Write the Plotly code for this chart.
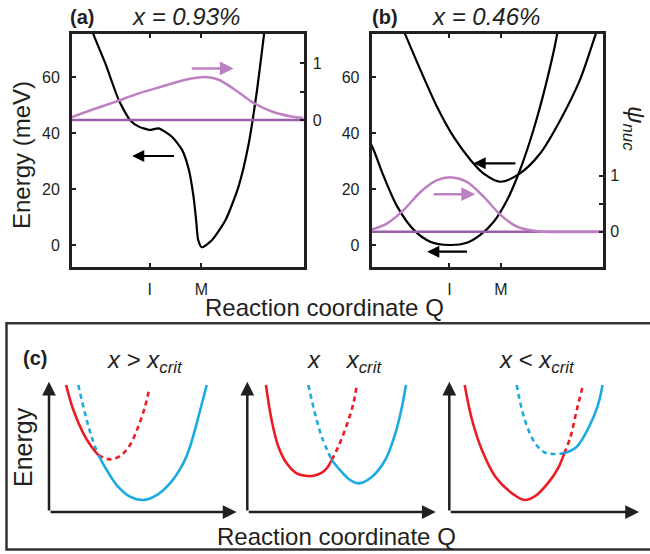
import plotly.graph_objects as go

W, H = 650, 554
FONT = "Liberation Sans, Arial, Helvetica, sans-serif"
INK = "#231f20"
PSI_COL = "#bd80c2"
BASE_COL = "#9a5ea9"
RED = "#ec1c24"
BLUE = "#1caae2"

# ---------------- data ----------------
q_tick_vals = [1, 2]
q_tick_text = ["I", "M"]
energy_ticks = [0, 20, 40, 60]
psi_tick_vals = [0, 0.5, 1]
psi_tick_text = ["0", "", "1"]

# panel (a): x = 0.93 %
a_pes_q = [-0.16, -0.085, 0.14, 0.40, 0.62, 0.79, 1.01, 1.17, 1.43, 1.63, 1.76, 1.85,
           1.90, 1.94, 2.01, 2.21, 2.47, 2.72, 2.92, 3.08, 3.21, 3.25]
a_pes_e = [79, 75, 64.9, 51.8, 44.6, 42.3, 41.1, 41.7, 38.7, 33.9, 26.8, 17.2,
           8.9, 1.8, -0.8, 1.8, 8.9, 20.8, 36.3, 55.3, 74.4, 80]
a_psi_q = [-0.506, -0.118, 0.333, 0.787, 1.238, 1.69, 2.078, 2.337, 2.659, 2.98, 3.368, 3.694, 3.985]
a_psi = [0.05, 0.18, 0.32, 0.47, 0.59, 0.71, 0.76, 0.71, 0.53, 0.32, 0.15, 0.07, 0.03]
a_base_q = [-0.506, 3.985]
a_base_psi = [0, 0]
a_black_arrow = dict(tail=(1.50, 31.8), head=(0.66, 31.8))
a_psi_arrow = dict(tail=(1.787, 0.91), head=(2.627, 0.91))

# panel (b): x = 0.46 %
b_low_q = [-0.7, -0.495, -0.27, -0.01, 0.31, 0.63, 1.0, 1.34, 1.60, 1.86, 2.12, 2.37, 2.63, 2.86, 3.08, 3.12]
b_low_e = [42, 35.1, 24.4, 13.7, 5.4, 1.2, 0, 0.8, 3.6, 8.3, 16.1, 26.8, 41.1, 56.5, 74.4, 80]
b_up_q = [0.08, 0.15, 0.44, 0.76, 1.08, 1.41, 1.66, 1.99, 2.37, 2.76, 3.15, 3.53, 3.82, 3.9]
b_up_e = [78, 75, 62.5, 49.4, 38.7, 30.4, 25.6, 22.6, 25.6, 32.7, 44.6, 58.9, 74.4, 79]
b_psi_q = [-0.53, -0.205, 0.116, 0.44, 0.76, 1.05, 1.34, 1.66, 1.99, 2.31, 2.70, 3.985]
b_psi = [0.03, 0.15, 0.39, 0.71, 0.92, 0.97, 0.89, 0.63, 0.30, 0.09, 0.01, 0.0]
b_base_q = [-0.53, 3.985]
b_base_psi = [0, 0]
b_black_arrows = [dict(tail=(2.31, 29.2), head=(1.47, 29.2)),
                  dict(tail=(1.37, -2.4), head=(0.57, -2.4))]
b_psi_arrow = dict(tail=(0.665, 0.67), head=(1.50, 0.67))

# panel (c): schematic parabolas (local units 0..10)
c1_red_solid_u = [0.91, 1.30, 1.83, 2.27, 2.63]
c1_red_solid_v = [9.75, 7.83, 6.04, 5.01, 4.37]
c1_red_dash_u = [2.63, 3.25, 3.79, 4.32, 4.76, 5.12, 5.35]
c1_red_dash_v = [4.37, 4.04, 4.30, 5.14, 6.55, 8.08, 9.49]
c1_blue_dash_u = [1.56, 1.92, 2.27, 2.63]
c1_blue_dash_v = [9.75, 7.57, 5.78, 4.37]
c1_blue_solid_u = [2.63, 3.08, 3.61, 4.32, 5.03, 5.74, 6.45, 7.16, 7.52, 8.05, 8.41]
c1_blue_solid_v = [4.37, 3.22, 2.07, 1.18, 0.92, 1.30, 2.20, 3.74, 5.01, 7.75, 9.75]

c2_red_solid_u = [0.99, 1.29, 1.65, 2.09, 2.62, 3.02, 3.42, 3.75, 4.03, 4.27, 4.48]
c2_red_solid_v = [9.75, 7.06, 5.01, 3.74, 2.97, 2.80, 2.76, 2.88, 3.09, 3.45, 3.99]
c2_red_dash_u = [4.48, 4.83, 5.28, 5.63, 5.81]
c2_red_dash_v = [3.99, 5.01, 6.68, 8.34, 9.75]
c2_blue_dash_u = [3.24, 3.59, 3.95, 4.48]
c2_blue_dash_v = [9.75, 7.57, 5.78, 3.99]
c2_blue_solid_u = [4.48, 4.92, 5.45, 5.91, 6.62, 7.32, 7.86, 8.21, 8.42]
c2_blue_solid_v = [3.99, 3.22, 2.46, 2.20, 2.71, 3.99, 6.04, 8.08, 9.75]

c3_red_solid_u = [0.81, 1.20, 1.72, 2.43, 3.31, 3.98, 4.55, 5.19, 5.73, 6.06]
c3_red_solid_v = [9.75, 7.06, 4.76, 2.71, 1.43, 0.92, 1.25, 2.20, 3.35, 4.50]
c3_red_dash_u = [6.06, 6.39, 6.72, 7.05]
c3_red_dash_v = [4.50, 5.78, 7.83, 9.75]
c3_blue_dash_u = [3.55, 3.98, 4.53, 5.05, 5.55, 6.06]
c3_blue_dash_v = [9.75, 7.06, 5.27, 4.55, 4.45, 4.50]
c3_blue_solid_u = [6.06, 6.72, 7.37, 7.81, 8.08]
c3_blue_solid_v = [4.50, 5.01, 6.55, 8.08, 9.75]

c_titles = ["<i>x</i> > <i>x<sub>crit</sub></i>",
            "<i>x</i>\u00a0\u00a0\u00a0\u00a0<i>x<sub>crit</sub></i>",
            "<i>x</i> < <i>x<sub>crit</sub></i>"]

# ---------------- figure ----------------
def px(x):
    return x / W


def py(y):
    return 1 - y / H


fig = go.Figure()

def line(x, y, xa, ya, color, width, dash="solid", shape="spline", smoothing=0.8):
    fig.add_trace(go.Scatter(x=x, y=y, xaxis=xa, yaxis=ya, mode="lines",
                             line=dict(color=color, width=width, dash=dash, shape=shape,
                                       smoothing=smoothing),
                             showlegend=False, hoverinfo="skip", cliponaxis=True))

# (a)
line(a_base_q, a_base_psi, "x", "y2", BASE_COL, 2.5, shape="linear")
line(a_psi_q, a_psi, "x", "y2", PSI_COL, 2.5)
line(a_pes_q, a_pes_e, "x", "y", "#000", 2.2, smoothing=0.6)
# (b)
line(b_base_q, b_base_psi, "x2", "y4", BASE_COL, 2.5, shape="linear")
line(b_psi_q, b_psi, "x2", "y4", PSI_COL, 2.5)
line(b_low_q, b_low_e, "x2", "y3", "#000", 2.2)
line(b_up_q, b_up_e, "x2", "y3", "#000", 2.2)

# (c)
DASH = "5px,4px"
c_sets = [
    ("x3", "y5", c1_red_solid_u, c1_red_solid_v, c1_red_dash_u, c1_red_dash_v,
     c1_blue_dash_u, c1_blue_dash_v, c1_blue_solid_u, c1_blue_solid_v),
    ("x4", "y6", c2_red_solid_u, c2_red_solid_v, c2_red_dash_u, c2_red_dash_v,
     c2_blue_dash_u, c2_blue_dash_v, c2_blue_solid_u, c2_blue_solid_v),
    ("x5", "y7", c3_red_solid_u, c3_red_solid_v, c3_red_dash_u, c3_red_dash_v,
     c3_blue_dash_u, c3_blue_dash_v, c3_blue_solid_u, c3_blue_solid_v),
]
for xa, ya, rsu, rsv, rdu, rdv, bdu, bdv, bsu, bsv in c_sets:
    line(rdu, rdv, xa, ya, RED, 2.6, dash=DASH, smoothing=1.0)
    line(bdu, bdv, xa, ya, BLUE, 2.6, dash=DASH, smoothing=1.0)
    line(rsu, rsv, xa, ya, RED, 2.6, smoothing=1.0)
    line(bsu, bsv, xa, ya, BLUE, 2.6, smoothing=1.0)

tickfont = dict(family=FONT, size=16, color=INK)
frame = dict(showline=True, linewidth=3, linecolor=INK, showgrid=False, zeroline=False,
             ticks="inside", ticklen=4, tickwidth=1.5, tickcolor=INK, tickfont=tickfont)

ab_y = [py(267), py(34)]
e_range = [-7.86, 75.4]
q_range = [-0.506, 3.985]

layout = dict(
    width=W, height=H, margin=dict(l=0, r=0, t=0, b=0),
    paper_bgcolor="white", plot_bgcolor="rgba(0,0,0,0)",
    showlegend=False,
    xaxis=dict(frame, domain=[px(72), px(303.7)], anchor="y", range=q_range,
               tickmode="array", tickvals=q_tick_vals, ticktext=q_tick_text,
               mirror="ticks", ticklabelstandoff=6),
    yaxis=dict(frame, domain=ab_y, anchor="x", range=e_range, tickmode="array",
               tickvals=energy_ticks, mirror=True, ticklabelstandoff=6),
    yaxis2=dict(overlaying="y", side="right", anchor="x", range=[-2.593, 1.517],
                showgrid=False, zeroline=False, showline=False, ticks="inside", ticklen=4,
                tickwidth=1.5, tickcolor=INK, tickfont=tickfont, tickmode="array",
                tickvals=psi_tick_vals, ticktext=psi_tick_text, ticklabelstandoff=8),
    xaxis2=dict(frame, domain=[px(371.7), px(603.3)], anchor="y3", range=q_range,
                tickmode="array", tickvals=q_tick_vals, ticktext=q_tick_text,
                mirror="ticks", ticklabelstandoff=6),
    yaxis3=dict(frame, domain=ab_y, anchor="x2", range=e_range, tickmode="array",
                tickvals=energy_ticks, mirror=True, ticklabelstandoff=6),
    yaxis4=dict(overlaying="y3", side="right", anchor="x2", range=[-0.63, 3.53],
                showgrid=False, zeroline=False, showline=False, ticks="inside", ticklen=4,
                tickwidth=1.5, tickcolor=INK, tickfont=tickfont, tickmode="array",
                tickvals=psi_tick_vals, ticktext=psi_tick_text, ticklabelstandoff=6),
)

c_y = [py(512), py(381.7)]
c_x = [[px(49), px(236.5)], [px(247.3), px(435.7)], [px(449.3), px(639)]]
for i, (xa, ya) in enumerate([("x3", "y5"), ("x4", "y6"), ("x5", "y7")]):
    layout["xaxis" + xa[1:]] = dict(domain=c_x[i], anchor=ya, range=[0, 10], visible=False)
    layout["yaxis" + ya[1:]] = dict(domain=c_y, anchor=xa, range=[0, 10], visible=False)

fig.update_layout(**layout)

ann = []

def text(x, y, t, size, xanchor="center", yanchor="middle", angle=0, bold=False):
    if bold:
        t = "<b>" + t + "</b>"
    ann.append(dict(x=px(x), y=py(y), xref="paper", yref="paper", text=t, showarrow=False,
                    xanchor=xanchor, yanchor=yanchor, textangle=angle,
                    font=dict(family=FONT, size=size, color=INK)))

def arrow(xa, ya, tail, head, color, width=2.2):
    ann.append(dict(x=head[0], y=head[1], ax=tail[0], ay=tail[1], xref=xa, yref=ya,
                    axref=xa, ayref=ya, showarrow=True, arrowhead=2, arrowsize=1.1,
                    arrowwidth=width, arrowcolor=color, text=""))

text(82, 17, "(a)", 20, bold=True)
text(130, 17, "<i>x = 0.93%</i>", 24, xanchor="left")
text(385, 17, "(b)", 20, bold=True)
text(430, 17, "<i>x = 0.46%</i>", 24, xanchor="left")
text(21, 155, "Energy (meV)", 24, angle=-90)
text(324, 307, "Reaction coordinate Q", 24)
text(634, 128, "<i>ψ<sub>nuc</sub></i>", 24, angle=90)

arrow("x", "y", a_black_arrow["tail"], a_black_arrow["head"], "#000")
arrow("x", "y2", a_psi_arrow["tail"], a_psi_arrow["head"], PSI_COL, 2.5)
for ar in b_black_arrows:
    arrow("x2", "y3", ar["tail"], ar["head"], "#000")
arrow("x2", "y4", b_psi_arrow["tail"], b_psi_arrow["head"], PSI_COL, 2.5)

# panel (c) decorations
text(35, 358, "(c)", 20, bold=True)
text(105, 361, c_titles[0], 24, xanchor="left")
text(305, 361, c_titles[1], 24, xanchor="left")
text(497, 361, c_titles[2], 24, xanchor="left")
text(23, 447, "Energy", 25, angle=-90)
text(336, 536, "Reaction coordinate Q", 24)

for xa, ya in [("x3", "y5"), ("x4", "y6"), ("x5", "y7")]:
    arrow(xa, ya, (0, 0), (10, 0), INK, 2.5)
    arrow(xa, ya, (0, 0), (0, 10), INK, 2.5)

fig.update_layout(annotations=ann)
fig.add_shape(type="rect", xref="paper", yref="paper", x0=px(6.5), x1=px(660),
              y0=py(549.5), y1=py(323.3), line=dict(color="#333", width=2.5))

fig.write_html("out.html", config={"displayModeBar": False},
               post_script="document.body.style.margin='0px';")
